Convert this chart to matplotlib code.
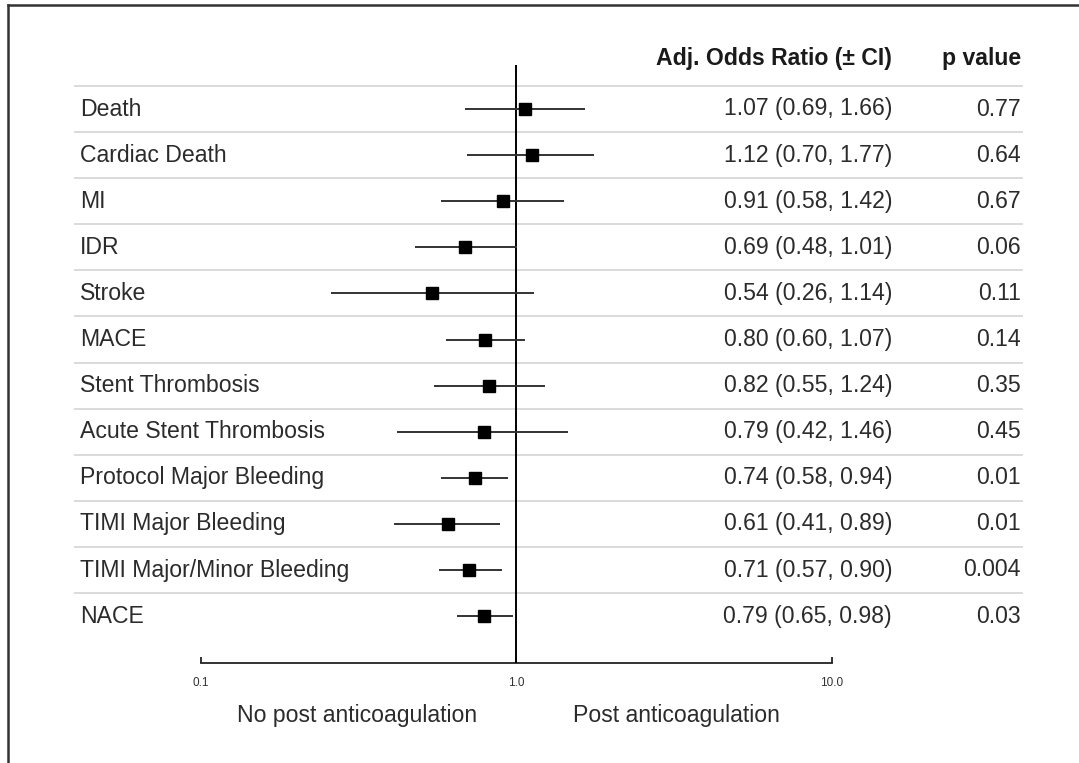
import matplotlib
matplotlib.use("Agg")
import matplotlib.pyplot as plt
from matplotlib.lines import Line2D
from matplotlib.ticker import NullLocator
import numpy as np

# ---------------- data ----------------
outcomes = ["Death", "Cardiac Death", "MI", "IDR", "Stroke", "MACE",
            "Stent Thrombosis", "Acute Stent Thrombosis",
            "Protocol Major Bleeding", "TIMI Major Bleeding",
            "TIMI Major/Minor Bleeding", "NACE"]
odds_ratio = [1.07, 1.12, 0.91, 0.69, 0.54, 0.80, 0.82, 0.79, 0.74, 0.61, 0.71, 0.79]
ci_low = [0.69, 0.70, 0.58, 0.48, 0.26, 0.60, 0.55, 0.42, 0.58, 0.41, 0.57, 0.65]
ci_high = [1.66, 1.77, 1.42, 1.01, 1.14, 1.07, 1.24, 1.46, 0.94, 0.89, 0.90, 0.98]
p_values = ["0.77", "0.64", "0.67", "0.06", "0.11", "0.14", "0.35", "0.45",
            "0.01", "0.01", "0.004", "0.03"]
tick_values = [0.1, 1.0, 10.0]
tick_labels = ["0.1", "1.0", "10.0"]
header_or = "Adj. Odds Ratio (± CI)"
header_p = "p value"
left_label = "No post anticoagulation"
right_label = "Post anticoagulation"

# ---------------- layout ----------------
W, H = 1079, 763
plt.rcParams["font.family"] = ["Liberation Sans", "DejaVu Sans"]
fig = plt.figure(figsize=(W / 100, H / 100), dpi=100)
ax = fig.add_axes([0, 0, 1, 1])
ax.set_xscale("log")

px_per_dec = 315.5
x_one = 516.0
row0 = 109.0
row_h = 46.1
ax.set_xlim(10 ** (-x_one / px_per_dec), 10 ** ((W - x_one) / px_per_dec))
ax.set_ylim((H - row0) / row_h, -row0 / row_h)


def fx(px):
    return px / W


def ry(py):
    return (py - row0) / row_h


n = len(outcomes)
rows = np.arange(n)
txt_col = "#2b2b2b"
fs = 16.6

# separator lines (above each row)
for i in rows:
    ax.plot([fx(75), fx(1022)], [i - 0.5, i - 0.5], transform=ax.get_yaxis_transform(),
            color="#dadada", lw=1.4, zorder=1)

# reference line at 1
ax.vlines(1.0, ry(65), ry(663), color="black", lw=1.4, zorder=3)

# CIs and point estimates
ax.hlines(rows, ci_low, ci_high, color="#333333", lw=1.4, zorder=4)
ax.plot(odds_ratio, rows, "s", color="black", ms=8.8, zorder=5)

# labels and table text
for i in rows:
    ax.text(fx(80), i, outcomes[i], transform=ax.get_yaxis_transform(),
            ha="left", va="center", fontsize=fs, color=txt_col)
    ax.text(fx(892), i, f"{odds_ratio[i]:.2f} ({ci_low[i]:.2f}, {ci_high[i]:.2f})",
            transform=ax.get_yaxis_transform(), ha="right", va="center",
            fontsize=fs, color=txt_col)
    ax.text(fx(1021), i, p_values[i], transform=ax.get_yaxis_transform(),
            ha="right", va="center", fontsize=fs, color=txt_col)

ax.text(fx(892), ry(59), header_or, transform=ax.get_yaxis_transform(),
        ha="right", va="center", fontsize=fs, fontweight="bold", color="#1a1a1a")
ax.text(fx(1021), ry(59), header_p, transform=ax.get_yaxis_transform(),
        ha="right", va="center", fontsize=fs, fontweight="bold", color="#1a1a1a")

# bottom axis
for s in ["left", "right", "top"]:
    ax.spines[s].set_visible(False)
ax.spines["bottom"].set_position(("data", ry(663)))
ax.spines["bottom"].set_bounds(tick_values[0], tick_values[-1])
ax.spines["bottom"].set_linewidth(1.3)
ax.spines["bottom"].set_color("#222222")
ax.set_xticks(tick_values, tick_labels)
ax.xaxis.set_minor_locator(NullLocator())
ax.tick_params(axis="x", direction="in", length=4, width=1.3, color="#222222",
               labelsize=8.5, labelcolor="#333333", pad=10)
ax.set_yticks([])
ax.patch.set_visible(False)

ax.text(357 / W, ry(716), left_label, transform=ax.get_yaxis_transform(),
        ha="center", va="center", fontsize=fs, color=txt_col)
ax.text(676 / W, ry(716), right_label, transform=ax.get_yaxis_transform(),
        ha="center", va="center", fontsize=fs, color=txt_col)

# partial frame (left and top edges)
fig.add_artist(Line2D([8 / W, 8 / W], [0, 1 - 5 / H], transform=fig.transFigure,
                      color="#333333", lw=1.8))
fig.add_artist(Line2D([8 / W, 1], [1 - 5 / H, 1 - 5 / H], transform=fig.transFigure,
                      color="#333333", lw=1.8))

fig.savefig("out.png", dpi=100)
